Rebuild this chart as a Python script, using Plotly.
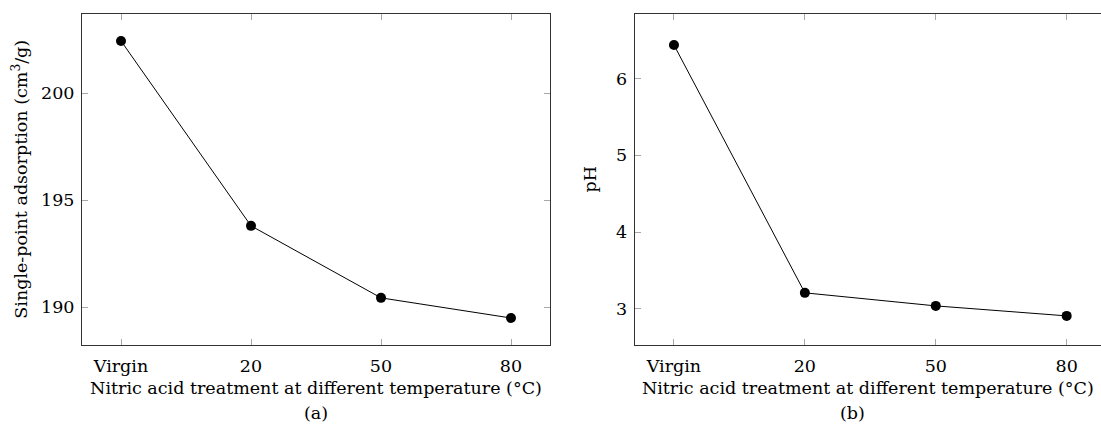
import plotly.graph_objects as go

categories = ["Virgin", "20", "50", "80"]
adsorption = [202.43, 193.80, 190.44, 189.50]
ph_values = [6.436, 3.21, 3.04, 2.91]

x_title = "Nitric acid treatment at different temperature (°C)"
y_title_a = "Single-point adsorption (cm<sup>3</sup>/g)"
y_title_b = "pH"

W, H = 1101, 441
FONT = dict(family="DejaVu Serif", size=17.5, color="black")

fig = go.Figure()
fig.add_trace(go.Scatter(x=categories, y=adsorption, mode="lines+markers",
                         line=dict(color="black", width=1),
                         marker=dict(color="black", size=10),
                         xaxis="x", yaxis="y", showlegend=False))
fig.add_trace(go.Scatter(x=categories, y=ph_values, mode="lines+markers",
                         line=dict(color="black", width=1),
                         marker=dict(color="black", size=10),
                         xaxis="x2", yaxis="y2", showlegend=False))

ydom = [(H - 345) / H, (H - 13.5) / H]
spine = "#333333"
tickc = "#a8a8a8"

common_x = dict(type="category", showgrid=False, zeroline=False, showline=True,
                linecolor=spine, linewidth=1, ticks="inside", ticklen=6,
                tickcolor=tickc, tickwidth=1, tickfont=FONT, ticklabelstandoff=5,
                title=dict(text=x_title, font=FONT, standoff=6))
common_y = dict(showgrid=False, zeroline=False, showline=True,
                linecolor=spine, linewidth=1, ticks="inside", ticklen=6,
                tickcolor=tickc, tickwidth=1, tickfont=FONT, domain=ydom,
                ticklabelstandoff=3)

fig.update_layout(
    width=W, height=H,
    margin=dict(l=0, r=0, t=0, b=0),
    paper_bgcolor="white", plot_bgcolor="white",
    font=FONT,
    xaxis=dict(common_x, domain=[82 / W, 550 / W], range=[-0.3, 3.3],
               anchor="y", mirror="ticks"),
    yaxis=dict(common_y, anchor="x", range=[188.24, 203.71], mirror="ticks",
               tickvals=[190, 195, 200],
               title=dict(text=y_title_a, font=FONT, standoff=8)),
    xaxis2=dict(common_x, domain=[634.7 / W, 1.0],
                range=[-0.3, -0.3 + (W - 634.7) / 130.9],
                anchor="y2", mirror="ticks"),
    yaxis2=dict(common_y, anchor="x2", range=[2.531, 6.846], mirror=False,
                tickvals=[3, 4, 5, 6],
                title=dict(text=y_title_b, font=FONT, standoff=14)),
    yaxis3=dict(overlaying="y2", side="right", anchor="x2", range=[2.531, 6.846],
                showgrid=False, zeroline=False, showline=False,
                ticks="inside", ticklen=6, tickcolor=tickc, tickwidth=1,
                tickvals=[3, 4, 5, 6], showticklabels=False),
    annotations=[
        dict(text="(a)", x=316 / W, y=(H - 413) / H, xref="paper", yref="paper",
             showarrow=False, font=FONT, xanchor="center", yanchor="middle"),
        dict(text="(b)", x=852 / W, y=(H - 413) / H, xref="paper", yref="paper",
             showarrow=False, font=FONT, xanchor="center", yanchor="middle"),
    ],
)

fig.write_html("out.html")
